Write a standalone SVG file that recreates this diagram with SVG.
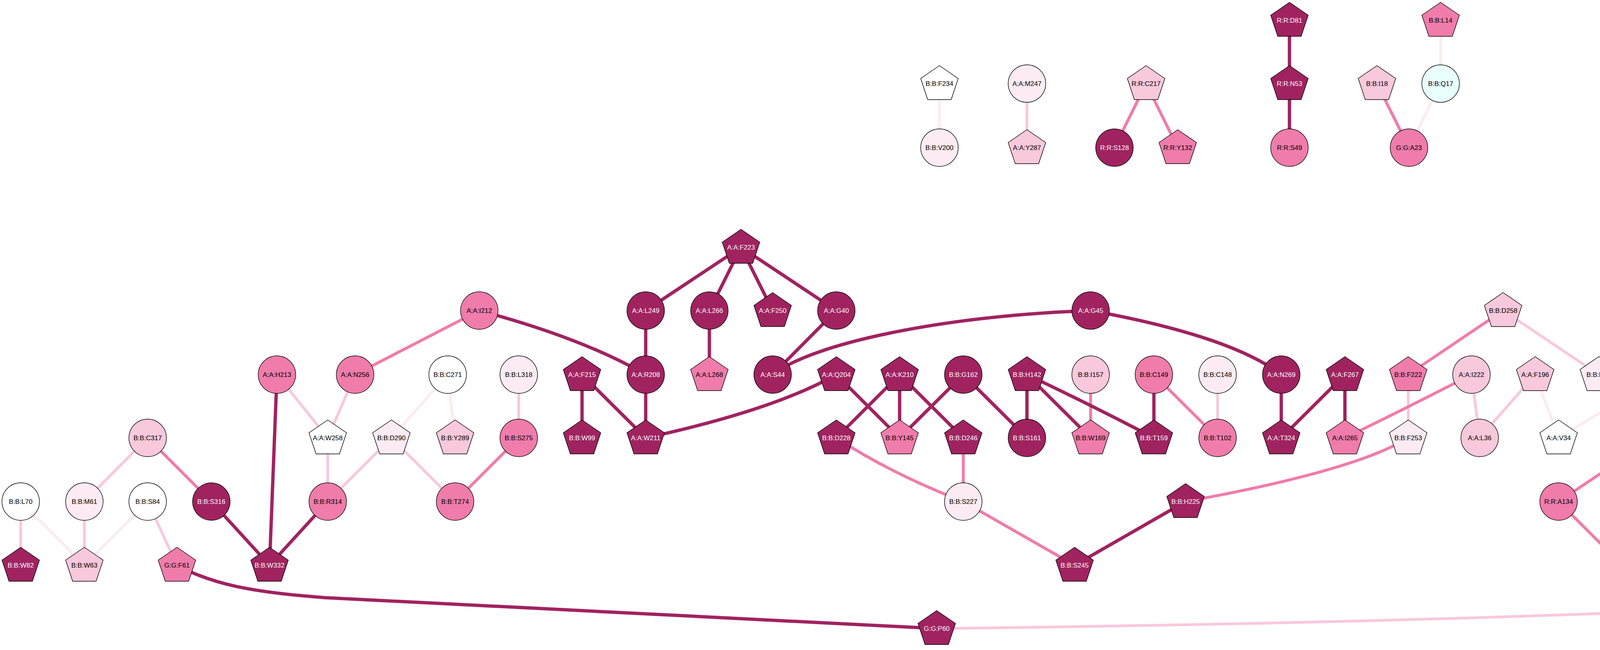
<svg xmlns="http://www.w3.org/2000/svg" xmlns:xlink="http://www.w3.org/1999/xlink" width="5671" height="1664" viewBox="0 0 5671 1664">
<style>
.e{fill:none;stroke-width:7;stroke-linecap:butt}
.ed{stroke:#A02360;stroke-width:8.5}
.em{stroke:#F07CAB;stroke-width:7.5}
.el{stroke:#F8C8DC}
.ev{stroke:#FCEBF2}
use{stroke:#000;stroke-width:1.4}
.d{fill:#A02360}.m{fill:#F07CAB}.l{fill:#F8C8DC}.v{fill:#FCEBF2}.w{fill:#FFFFFF}.c{fill:#E8FFFE}
text{font-family:"Liberation Sans",Arial,sans-serif;font-size:17px;text-anchor:middle;dominant-baseline:central;fill:#000}
text.tw{fill:#FFFFFF}
</style>
<defs>
<polygon id="P" points="0,-46 48,-13 30,41 -30,41 -48,-13"/>
<circle id="C" r="48"/>
</defs>
<rect width="5671" height="1664" fill="#FFFFFF"/>
<g id="edges" class="e">
<line class="el" x1="378" y1="1121" x2="216" y2="1284"/>
<line class="em" x1="378" y1="1121" x2="541" y2="1284"/>
<line class="el" x1="53" y1="1284" x2="53" y2="1447"/>
<line class="ev" x1="53" y1="1284" x2="216" y2="1447"/>
<line class="el" x1="216" y1="1284" x2="216" y2="1447"/>
<line class="ev" x1="378" y1="1284" x2="216" y2="1447"/>
<line class="el" x1="378" y1="1284" x2="453" y2="1447"/>
<line class="ed" x1="541" y1="1284" x2="690" y2="1447"/>
<line class="ed" x1="709" y1="959" x2="690" y2="1447"/>
<line class="ed" x1="839" y1="1284" x2="690" y2="1447"/>
<line class="el" x1="839" y1="1121" x2="839" y2="1284"/>
<line class="el" x1="1002" y1="1121" x2="839" y2="1284"/>
<line class="em" x1="1227" y1="795" x2="909" y2="959"/>
<line class="ed" x1="1653" y1="795" x2="1897" y2="633"/>
<line class="ed" x1="1653" y1="795" x2="1653" y2="959"/>
<line class="el" x1="709" y1="959" x2="839" y2="1121"/>
<line class="el" x1="909" y1="959" x2="839" y2="1121"/>
<line class="ev" x1="1146" y1="959" x2="1002" y2="1121"/>
<line class="ev" x1="1146" y1="959" x2="1165" y2="1121"/>
<line class="el" x1="1328" y1="959" x2="1328" y2="1121"/>
<line class="ed" x1="1490" y1="959" x2="1490" y2="1121"/>
<line class="ed" x1="1490" y1="959" x2="1653" y2="1121"/>
<line class="ed" x1="1653" y1="959" x2="1653" y2="1121"/>
<line class="el" x1="1002" y1="1121" x2="1165" y2="1284"/>
<line class="em" x1="1328" y1="1121" x2="1165" y2="1284"/>
<line class="ed" x1="1897" y1="633" x2="1816" y2="795"/>
<line class="ed" x1="1897" y1="633" x2="1978" y2="795"/>
<line class="ed" x1="1897" y1="633" x2="2141" y2="795"/>
<line class="ed" x1="1816" y1="795" x2="1816" y2="959"/>
<line class="ed" x1="2141" y1="795" x2="1978" y2="959"/>
<line class="ed" x1="2141" y1="959" x2="2303" y2="1121"/>
<line class="ed" x1="2303" y1="959" x2="2141" y2="1121"/>
<line class="ed" x1="2303" y1="959" x2="2303" y2="1121"/>
<line class="ed" x1="2303" y1="959" x2="2466" y2="1121"/>
<line class="ed" x1="2466" y1="959" x2="2303" y2="1121"/>
<line class="ed" x1="2466" y1="959" x2="2629" y2="1121"/>
<line class="ed" x1="2629" y1="959" x2="2629" y2="1121"/>
<line class="ed" x1="2629" y1="959" x2="2792" y2="1121"/>
<line class="em" x1="2792" y1="959" x2="2792" y2="1121"/>
<line class="em" x1="2466" y1="1121" x2="2466" y2="1284"/>
<line class="em" x1="2466" y1="1284" x2="2751" y2="1447"/>
<line class="ed" x1="2751" y1="1447" x2="3035" y2="1284"/>
<line class="ed" x1="2954" y1="959" x2="2954" y2="1121"/>
<line class="em" x1="2954" y1="959" x2="3117" y2="1121"/>
<line class="el" x1="3117" y1="959" x2="3117" y2="1121"/>
<line class="ed" x1="3280" y1="959" x2="3280" y2="1121"/>
<line class="ed" x1="3443" y1="959" x2="3280" y2="1121"/>
<line class="ed" x1="3443" y1="959" x2="3443" y2="1121"/>
<line class="em" x1="3848" y1="795" x2="3605" y2="959"/>
<line class="el" x1="3848" y1="795" x2="4093" y2="959"/>
<line class="el" x1="3605" y1="959" x2="3605" y2="1121"/>
<line class="el" x1="3767" y1="959" x2="3788" y2="1121"/>
<line class="el" x1="3930" y1="959" x2="3788" y2="1121"/>
<line class="ev" x1="3930" y1="959" x2="3990" y2="1121"/>
<line class="ev" x1="4256" y1="959" x2="3990" y2="1121"/>
<line class="em" x1="4256" y1="959" x2="4234" y2="1121"/>
<line class="em" x1="4234" y1="1121" x2="3990" y2="1284"/>
<line class="em" x1="3990" y1="1284" x2="4153" y2="1447"/>
<line class="em" x1="4153" y1="1284" x2="4153" y2="1447"/>
<line class="el" x1="4315" y1="1284" x2="4153" y2="1447"/>
<line class="el" x1="4315" y1="1284" x2="4315" y2="1447"/>
<line class="el" x1="4315" y1="1284" x2="4478" y2="1447"/>
<line class="em" x1="4478" y1="1284" x2="4478" y2="1447"/>
<line class="ed" x1="4478" y1="1284" x2="4803" y2="1447"/>
<line class="em" x1="4641" y1="1121" x2="4641" y2="1284"/>
<line class="ed" x1="4641" y1="1284" x2="4803" y2="1447"/>
<line class="el" x1="4845" y1="1121" x2="4803" y2="1284"/>
<line class="ed" x1="4845" y1="1121" x2="4967" y2="1284"/>
<line class="ed" x1="5048" y1="1121" x2="4967" y2="1284"/>
<line class="ed" x1="5048" y1="1121" x2="5129" y2="1284"/>
<line class="ed" x1="4967" y1="1284" x2="4803" y2="1447"/>
<line class="ed" x1="5292" y1="1284" x2="5129" y2="1447"/>
<line class="ev" x1="5292" y1="1447" x2="5292" y2="1609"/>
<line class="em" x1="5454" y1="1447" x2="5292" y2="1609"/>
<line class="em" x1="5454" y1="1447" x2="5535" y2="1609"/>
<line class="em" x1="5617" y1="1447" x2="5535" y2="1609"/>
<line class="el" x1="2629" y1="214" x2="2629" y2="378"/>
<line class="ev" x1="2405" y1="214" x2="2405" y2="378"/>
<line class="em" x1="2934" y1="214" x2="2853" y2="378"/>
<line class="em" x1="2934" y1="214" x2="3015" y2="378"/>
<line class="ed" x1="3301" y1="52" x2="3301" y2="214"/>
<line class="ed" x1="3301" y1="214" x2="3301" y2="378"/>
<line class="ev" x1="3688" y1="52" x2="3688" y2="214"/>
<line class="em" x1="3525" y1="214" x2="3607" y2="378"/>
<line class="ev" x1="3688" y1="214" x2="3607" y2="378"/>
<path class="ed" d="M453,1447 C540,1494 640,1516 832,1530 L2398,1609"/>
<path class="el" d="M2398,1609 Q4000,1590 5000,1527 Q5230,1512 5292,1447"/>
<path class="ed" d="M1227,795 Q1490,865 1653,959"/>
<path class="ed" d="M1653,1121 Q1980,1050 2141,959"/>
<path class="ed" d="M1978,959 C2080,880 2400,810 2792,795"/>
<path class="ed" d="M2792,795 Q3150,860 3280,959"/>
<path class="ed" d="M2629,959 Q2820,1050 2954,1121"/>
<path class="em" d="M2141,1121 Q2280,1212 2466,1284"/>
<path class="em" d="M3605,1121 Q3470,1205 3035,1284"/>
<path class="em" d="M3767,959 Q3590,1050 3443,1121"/>
<path class="em" d="M4153,1284 Q4330,1360 4478,1447"/>
<path class="ed" d="M4803,1447 Q5150,1370 5292,1284"/>
</g>
<g id="nodes">
<g id="B-B-F234" transform="translate(2405,214)"><use href="#P" class="w"/><text>B:B:F234</text></g>
<g id="B-B-V200" transform="translate(2405,378)"><use href="#C" class="v"/><text>B:B:V200</text></g>
<g id="A-A-M247" transform="translate(2629,214)"><use href="#C" class="v"/><text>A:A:M247</text></g>
<g id="A-A-Y287" transform="translate(2629,378)"><use href="#P" class="l"/><text>A:A:Y287</text></g>
<g id="R-R-C217" transform="translate(2934,214)"><use href="#P" class="l"/><text>R:R:C217</text></g>
<g id="R-R-S128" transform="translate(2853,378)"><use href="#C" class="d"/><text class="tw">R:R:S128</text></g>
<g id="R-R-Y132" transform="translate(3015,378)"><use href="#P" class="m"/><text>R:R:Y132</text></g>
<g id="R-R-D81" transform="translate(3301,52)"><use href="#P" class="d"/><text class="tw">R:R:D81</text></g>
<g id="R-R-N53" transform="translate(3301,214)"><use href="#P" class="d"/><text class="tw">R:R:N53</text></g>
<g id="R-R-S49" transform="translate(3301,378)"><use href="#C" class="m"/><text>R:R:S49</text></g>
<g id="B-B-L14" transform="translate(3688,52)"><use href="#P" class="m"/><text>B:B:L14</text></g>
<g id="B-B-I18" transform="translate(3525,214)"><use href="#P" class="l"/><text>B:B:I18</text></g>
<g id="B-B-Q17" transform="translate(3688,214)"><use href="#C" class="c"/><text>B:B:Q17</text></g>
<g id="G-G-A23" transform="translate(3607,378)"><use href="#C" class="m"/><text>G:G:A23</text></g>
<g id="A-A-F223" transform="translate(1897,633)"><use href="#P" class="d"/><text class="tw">A:A:F223</text></g>
<g id="A-A-I212" transform="translate(1227,795)"><use href="#C" class="m"/><text>A:A:I212</text></g>
<g id="A-A-L249" transform="translate(1653,795)"><use href="#C" class="d"/><text class="tw">A:A:L249</text></g>
<g id="A-A-L266" transform="translate(1816,795)"><use href="#C" class="d"/><text class="tw">A:A:L266</text></g>
<g id="A-A-F250" transform="translate(1978,795)"><use href="#P" class="d"/><text class="tw">A:A:F250</text></g>
<g id="A-A-G40" transform="translate(2141,795)"><use href="#C" class="d"/><text class="tw">A:A:G40</text></g>
<g id="A-A-G45" transform="translate(2792,795)"><use href="#C" class="d"/><text class="tw">A:A:G45</text></g>
<g id="B-B-D258" transform="translate(3848,795)"><use href="#P" class="l"/><text>B:B:D258</text></g>
<g id="A-A-H213" transform="translate(709,959)"><use href="#C" class="m"/><text>A:A:H213</text></g>
<g id="A-A-N256" transform="translate(909,959)"><use href="#C" class="m"/><text>A:A:N256</text></g>
<g id="B-B-C271" transform="translate(1146,959)"><use href="#C" class="w"/><text>B:B:C271</text></g>
<g id="B-B-L318" transform="translate(1328,959)"><use href="#C" class="v"/><text>B:B:L318</text></g>
<g id="A-A-F215" transform="translate(1490,959)"><use href="#P" class="d"/><text class="tw">A:A:F215</text></g>
<g id="A-A-R208" transform="translate(1653,959)"><use href="#C" class="d"/><text class="tw">A:A:R208</text></g>
<g id="A-A-L268" transform="translate(1816,959)"><use href="#P" class="m"/><text>A:A:L268</text></g>
<g id="A-A-S44" transform="translate(1978,959)"><use href="#C" class="d"/><text class="tw">A:A:S44</text></g>
<g id="A-A-Q204" transform="translate(2141,959)"><use href="#P" class="d"/><text class="tw">A:A:Q204</text></g>
<g id="A-A-K210" transform="translate(2303,959)"><use href="#P" class="d"/><text class="tw">A:A:K210</text></g>
<g id="B-B-G162" transform="translate(2466,959)"><use href="#C" class="d"/><text class="tw">B:B:G162</text></g>
<g id="B-B-H142" transform="translate(2629,959)"><use href="#P" class="d"/><text class="tw">B:B:H142</text></g>
<g id="B-B-I157" transform="translate(2792,959)"><use href="#C" class="l"/><text>B:B:I157</text></g>
<g id="B-B-C149" transform="translate(2954,959)"><use href="#C" class="m"/><text>B:B:C149</text></g>
<g id="B-B-C148" transform="translate(3117,959)"><use href="#C" class="v"/><text>B:B:C148</text></g>
<g id="A-A-N269" transform="translate(3280,959)"><use href="#C" class="d"/><text class="tw">A:A:N269</text></g>
<g id="A-A-F267" transform="translate(3443,959)"><use href="#P" class="d"/><text class="tw">A:A:F267</text></g>
<g id="B-B-F222" transform="translate(3605,959)"><use href="#P" class="m"/><text>B:B:F222</text></g>
<g id="A-A-I222" transform="translate(3767,959)"><use href="#C" class="l"/><text>A:A:I222</text></g>
<g id="A-A-F196" transform="translate(3930,959)"><use href="#P" class="l"/><text>A:A:F196</text></g>
<g id="B-B-R22" transform="translate(4093,959)"><use href="#P" class="v"/><text>B:B:R22</text></g>
<g id="A-A-I343" transform="translate(4256,959)"><use href="#P" class="l"/><text>A:A:I343</text></g>
<g id="B-B-C317" transform="translate(378,1121)"><use href="#C" class="l"/><text>B:B:C317</text></g>
<g id="A-A-W258" transform="translate(839,1121)"><use href="#P" class="w"/><text>A:A:W258</text></g>
<g id="B-B-D290" transform="translate(1002,1121)"><use href="#P" class="v"/><text>B:B:D290</text></g>
<g id="B-B-Y289" transform="translate(1165,1121)"><use href="#P" class="l"/><text>B:B:Y289</text></g>
<g id="B-B-S275" transform="translate(1328,1121)"><use href="#C" class="m"/><text>B:B:S275</text></g>
<g id="B-B-W99" transform="translate(1490,1121)"><use href="#P" class="d"/><text class="tw">B:B:W99</text></g>
<g id="A-A-W211" transform="translate(1653,1121)"><use href="#P" class="d"/><text class="tw">A:A:W211</text></g>
<g id="B-B-D228" transform="translate(2141,1121)"><use href="#P" class="d"/><text class="tw">B:B:D228</text></g>
<g id="B-B-Y145" transform="translate(2303,1121)"><use href="#P" class="m"/><text>B:B:Y145</text></g>
<g id="B-B-D246" transform="translate(2466,1121)"><use href="#P" class="d"/><text class="tw">B:B:D246</text></g>
<g id="B-B-S161" transform="translate(2629,1121)"><use href="#C" class="d"/><text class="tw">B:B:S161</text></g>
<g id="B-B-W169" transform="translate(2792,1121)"><use href="#P" class="m"/><text>B:B:W169</text></g>
<g id="B-B-T159" transform="translate(2954,1121)"><use href="#P" class="d"/><text class="tw">B:B:T159</text></g>
<g id="B-B-T102" transform="translate(3117,1121)"><use href="#C" class="m"/><text>B:B:T102</text></g>
<g id="A-A-T324" transform="translate(3280,1121)"><use href="#P" class="d"/><text class="tw">A:A:T324</text></g>
<g id="A-A-I265" transform="translate(3443,1121)"><use href="#P" class="m"/><text>A:A:I265</text></g>
<g id="B-B-F253" transform="translate(3605,1121)"><use href="#P" class="v"/><text>B:B:F253</text></g>
<g id="A-A-L36" transform="translate(3788,1121)"><use href="#C" class="l"/><text>A:A:L36</text></g>
<g id="A-A-V34" transform="translate(3990,1121)"><use href="#P" class="w"/><text>A:A:V34</text></g>
<g id="A-A-N347" transform="translate(4234,1121)"><use href="#C" class="m"/><text>A:A:N347</text></g>
<g id="R-R-F214" transform="translate(4641,1121)"><use href="#P" class="m"/><text>R:R:F214</text></g>
<g id="R-R-C293" transform="translate(4845,1121)"><use href="#P" class="m"/><text>R:R:C293</text></g>
<g id="R-R-H292" transform="translate(5048,1121)"><use href="#C" class="d"/><text class="tw">R:R:H292</text></g>
<g id="B-B-L70" transform="translate(53,1284)"><use href="#C" class="w"/><text>B:B:L70</text></g>
<g id="B-B-M61" transform="translate(216,1284)"><use href="#C" class="v"/><text>B:B:M61</text></g>
<g id="B-B-S84" transform="translate(378,1284)"><use href="#C" class="w"/><text>B:B:S84</text></g>
<g id="B-B-S316" transform="translate(541,1284)"><use href="#C" class="d"/><text class="tw">B:B:S316</text></g>
<g id="B-B-R314" transform="translate(839,1284)"><use href="#C" class="m"/><text>B:B:R314</text></g>
<g id="B-B-T274" transform="translate(1165,1284)"><use href="#C" class="m"/><text>B:B:T274</text></g>
<g id="B-B-S227" transform="translate(2466,1284)"><use href="#C" class="v"/><text>B:B:S227</text></g>
<g id="B-B-H225" transform="translate(3035,1284)"><use href="#P" class="d"/><text class="tw">B:B:H225</text></g>
<g id="R-R-A134" transform="translate(3990,1284)"><use href="#C" class="m"/><text>R:R:A134</text></g>
<g id="R-R-D130" transform="translate(4153,1284)"><use href="#C" class="m"/><text>R:R:D130</text></g>
<g id="R-R-I69" transform="translate(4315,1284)"><use href="#P" class="v"/><text>R:R:I69</text></g>
<g id="R-R-M127" transform="translate(4478,1284)"><use href="#C" class="d"/><text class="tw">R:R:M127</text></g>
<g id="R-R-I124" transform="translate(4641,1284)"><use href="#C" class="m"/><text>R:R:I124</text></g>
<g id="R-R-F84" transform="translate(4803,1284)"><use href="#P" class="v"/><text>R:R:F84</text></g>
<g id="R-R-N296" transform="translate(4967,1284)"><use href="#P" class="d"/><text class="tw">R:R:N296</text></g>
<g id="R-R-W251" transform="translate(5129,1284)"><use href="#P" class="d"/><text class="tw">R:R:W251</text></g>
<g id="R-R-R131" transform="translate(5292,1284)"><use href="#P" class="d"/><text class="tw">R:R:R131</text></g>
<g id="B-B-W82" transform="translate(53,1447)"><use href="#P" class="d"/><text class="tw">B:B:W82</text></g>
<g id="B-B-W63" transform="translate(216,1447)"><use href="#P" class="l"/><text>B:B:W63</text></g>
<g id="G-G-F61" transform="translate(453,1447)"><use href="#P" class="m"/><text>G:G:F61</text></g>
<g id="B-B-W332" transform="translate(690,1447)"><use href="#P" class="d"/><text class="tw">B:B:W332</text></g>
<g id="B-B-S245" transform="translate(2751,1447)"><use href="#P" class="d"/><text class="tw">B:B:S245</text></g>
<g id="R-R-R145" transform="translate(4153,1447)"><use href="#P" class="l"/><text>R:R:R145</text></g>
<g id="R-R-S68" transform="translate(4315,1447)"><use href="#C" class="l"/><text>R:R:S68</text></g>
<g id="R-R-Y73" transform="translate(4478,1447)"><use href="#P" class="l"/><text>R:R:Y73</text></g>
<g id="R-R-Y300" transform="translate(4803,1447)"><use href="#P" class="d"/><text class="tw">R:R:Y300</text></g>
<g id="R-R-Y218" transform="translate(5129,1447)"><use href="#P" class="d"/><text class="tw">R:R:Y218</text></g>
<g id="B-B-M325" transform="translate(5292,1447)"><use href="#C" class="w"/><text>B:B:M325</text></g>
<g id="G-G-D48" transform="translate(5454,1447)"><use href="#P" class="d"/><text class="tw">G:G:D48</text></g>
<g id="B-B-R283" transform="translate(5617,1447)"><use href="#P" class="d"/><text class="tw">B:B:R283</text></g>
<g id="G-G-P60" transform="translate(2398,1609)"><use href="#P" class="d"/><text class="tw">G:G:P60</text></g>
<g id="G-G-P49" transform="translate(5292,1609)"><use href="#C" class="l"/><text>G:G:P49</text></g>
<g id="G-G-L51" transform="translate(5535,1609)"><use href="#C" class="v"/><text>G:G:L51</text></g>
</g>
</svg>
